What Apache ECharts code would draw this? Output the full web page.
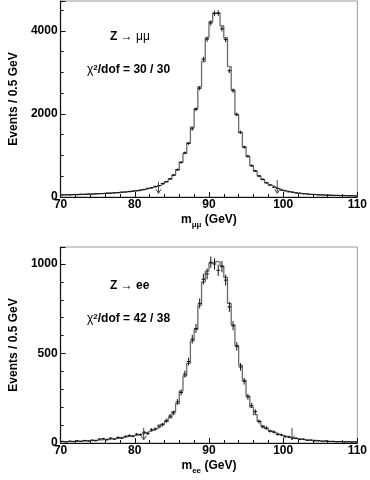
<!DOCTYPE html>
<html>
<head>
<meta charset="utf-8">
<script src="https://cdn.jsdelivr.net/npm/echarts@6/dist/echarts.min.js"></script>
<style>
  html, body { margin: 0; padding: 0; background: #fff; }
  #chart { width: 370px; height: 480px; }
</style>
</head>
<body>
<div id="chart"></div>
<script>
// 0.5 GeV bins from 70 to 110 GeV
const BIN_START = 70
const BIN_WIDTH = 0.5

// Z -> mumu : simulated shape (histogram) and data
const MU_MC = [
  50, 52, 54, 57, 60, 63, 66, 69, 72, 76,
  80, 85, 90, 95, 101, 108, 115, 123, 132, 142,
  150, 165, 185, 205, 225, 250, 280, 320, 370, 430,
  530, 650, 840, 1050, 1300, 1680, 2130, 2650, 3260, 3830,
  4220, 4425, 4425, 4120, 3830, 3140, 2580, 1980, 1550, 1210,
  970, 760, 620, 510, 420, 345, 285, 240, 200, 165,
  145, 128, 113, 100, 88, 79, 71, 65, 59, 54,
  50, 46, 43, 40, 37, 35, 33, 31, 29, 27,
]
const MU_DATA = [
  48, 55, 52, 60, 58, 65, 64, 71, 70, 78,
  82, 83, 93, 92, 104, 106, 118, 121, 135, 140,
  155, 168, 182, 208, 222, 255, 276, 326, 366, 438,
  525, 660, 832, 1062, 1290, 1640, 2110, 2620, 3320, 3800,
  4190, 4420, 4430, 4050, 3790, 3040, 2560, 1990, 1560, 1200,
  985, 750, 630, 505, 428, 340, 290, 236, 204, 166,
  148, 125, 116, 97, 90, 77, 73, 63, 61, 52,
  51, 45, 44, 39, 38, 34, 34, 30, 30, 26,
]
// fit range arrows: [mass, from, to]
const MU_ARROWS = [[83.2, 370, 90], [99.2, 410, 90]]

// Z -> ee
const EE_MC = [
  8, 8, 9, 9, 10, 11, 12, 13, 14, 16,
  17, 19, 21, 23, 25, 28, 31, 34, 38, 41,
  45, 50, 56, 63, 70, 80, 90, 105, 120, 140,
  175, 220, 290, 375, 445, 570, 635, 770, 900, 960,
  1005, 1015, 1010, 990, 925, 780, 660, 545, 435, 350,
  262, 200, 158, 122, 95, 80, 68, 58, 50, 43,
  37, 32, 28, 25, 22, 19, 17, 15, 14, 12,
  11, 10, 9, 8, 8, 7, 7, 6, 6, 5,
]
const EE_DATA = [
  9, 6, 10, 8, 12, 9, 14, 11, 16, 13,
  22, 24, 18, 27, 22, 31, 27, 37, 42, 38,
  49, 46, 60, 52, 74, 78, 95, 102, 125, 150,
  168, 230, 282, 385, 455, 580, 640, 780, 915, 945,
  1010, 1000, 965, 985, 910, 760, 655, 540, 425, 345,
  258, 210, 175, 120, 90, 84, 66, 61, 48, 45,
  35, 34, 27, 26, 20, 21, 15, 16, 12, 13,
  10, 11, 8, 9, 7, 8, 6, 7, 5, 6,
]
const EE_ARROWS = [[81.2, 85, 18], [101.2, 85, 18]]

const FONT = '"Liberation Sans", "DejaVu Sans", Arial, sans-serif'

function histLine(values) {
  const pts = values.map((v, i) => [BIN_START + i * BIN_WIDTH, v])
  pts.push([BIN_START + values.length * BIN_WIDTH, values[values.length - 1]])
  return pts
}

function points(values) {
  return values.map((v, i) => [BIN_START + (i + 0.5) * BIN_WIDTH, v])
}

function renderCross(params, api) {
  const x = api.value(0)
  const y = api.value(1)
  const err = Math.sqrt(y)
  const c = api.coord([x, y])
  const l = api.coord([x - BIN_WIDTH / 2, y])
  const r = api.coord([x + BIN_WIDTH / 2, y])
  const t = api.coord([x, y + err])
  const b = api.coord([x, y - err])
  const style = { stroke: '#111', lineWidth: 1 }
  return {
    type: 'group',
    children: [
      { type: 'line', shape: { x1: l[0], y1: c[1], x2: r[0], y2: c[1] }, style },
      { type: 'line', shape: { x1: c[0], y1: t[1], x2: c[0], y2: b[1] }, style },
    ],
  }
}

function renderArrow(params, api) {
  const top = api.coord([api.value(0), api.value(1)])
  const bot = api.coord([api.value(0), api.value(2)])
  const style = { stroke: '#444', lineWidth: 1, fill: null }
  return {
    type: 'group',
    children: [
      { type: 'line', shape: { x1: top[0], y1: top[1], x2: bot[0], y2: bot[1] }, style },
      { type: 'polyline', shape: { points: [[bot[0] - 2.5, bot[1] - 4], [bot[0], bot[1]], [bot[0] + 2.5, bot[1] - 4]] }, style },
    ],
  }
}

const tickLabel = {
  color: '#000',
  fontFamily: FONT,
  fontWeight: 'bold',
  fontSize: 12,
  formatter: (value) => String(value),
}

function makeX(gridIndex, sub) {
  return {
    gridIndex,
    type: 'value',
    min: 70,
    max: 110,
    interval: 10,
    name: `{m|m}{s|${sub}}{m| (GeV)}`,
    nameLocation: 'middle',
    nameGap: 14,
    nameTextStyle: {
      rich: {
        m: { fontFamily: FONT, fontWeight: 'bold', fontSize: 12, color: '#000', lineHeight: 18, verticalAlign: 'middle' },
        s: { fontFamily: FONT, fontWeight: 'bold', fontSize: 8, color: '#000', lineHeight: 12, verticalAlign: 'bottom' },
      },
    },
    axisLine: { onZero: false, lineStyle: { color: '#111', width: 1.2 } },
    axisTick: { inside: true, length: 5, lineStyle: { color: '#111' } },
    minorTick: { show: true, splitNumber: 5, length: 3, lineStyle: { color: '#111' } },
    splitLine: { show: false },
    axisLabel: { ...tickLabel, margin: 2 },
  }
}

function makeY(gridIndex, max, interval, minorSplit) {
  return {
    gridIndex,
    type: 'value',
    min: 0,
    max,
    interval,
    name: 'Events / 0.5 GeV',
    nameLocation: 'middle',
    nameGap: 38,
    nameTextStyle: { fontFamily: FONT, fontWeight: 'bold', fontSize: 12, color: '#000' },
    axisLine: { show: true, lineStyle: { color: '#111', width: 1.2 } },
    axisTick: { inside: true, length: 5, lineStyle: { color: '#111' } },
    minorTick: { show: true, splitNumber: minorSplit, length: 3, lineStyle: { color: '#111' } },
    splitLine: { show: false },
    axisLabel: { ...tickLabel, margin: 3, showMaxLabel: false },
  }
}

const labelRich = {
  b: { fontFamily: FONT, fontWeight: 'bold', fontSize: 12, fill: '#000' },
  r: { fontFamily: FONT, fontSize: 12, fill: '#000' },
  sup: { fontFamily: FONT, fontWeight: 'bold', fontSize: 8, fill: '#000', verticalAlign: 'top' },
}

function panelText(x, y, text) {
  return {
    type: 'text',
    left: x,
    top: y,
    style: { text, rich: labelRich, fill: '#000', font: `bold 12px ${FONT}` },
  }
}

const chart = echarts.init(document.getElementById('chart'))
chart.setOption({
  animation: false,
  backgroundColor: '#fff',
  grid: [
    { left: 51, top: 1, right: 10, height: 196, show: true, borderColor: '#999', borderWidth: 1 },
    { left: 51, top: 247, right: 10, height: 196, show: true, borderColor: '#999', borderWidth: 1 },
  ],
  xAxis: [makeX(0, 'μμ'), makeX(1, 'ee')],
  yAxis: [makeY(0, 4720, 2000, 4), makeY(1, 1095, 500, 5)],
  graphic: [
    panelText(110, 31, '{b|Z }{r|→ μμ}'),
    panelText(87, 64, '{r|χ}{sup|2}{b|/dof = 30 / 30}'),
    panelText(110, 280, '{b|Z }{r|→ }{b|ee}'),
    panelText(87, 313, '{r|χ}{sup|2}{b|/dof = 42 / 38}'),
  ],
  series: [
    {
      type: 'line', xAxisIndex: 0, yAxisIndex: 0, step: 'end', showSymbol: false,
      data: histLine(MU_MC), lineStyle: { color: '#6a6a6a', width: 1.3 }, z: 2,
    },
    { type: 'custom', xAxisIndex: 0, yAxisIndex: 0, data: points(MU_DATA), renderItem: renderCross, clip: true, z: 3 },
    { type: 'custom', xAxisIndex: 0, yAxisIndex: 0, data: MU_ARROWS, renderItem: renderArrow, z: 4 },
    {
      type: 'line', xAxisIndex: 1, yAxisIndex: 1, step: 'end', showSymbol: false,
      data: histLine(EE_MC), lineStyle: { color: '#6a6a6a', width: 1.3 }, z: 2,
    },
    { type: 'custom', xAxisIndex: 1, yAxisIndex: 1, data: points(EE_DATA), renderItem: renderCross, clip: true, z: 3 },
    { type: 'custom', xAxisIndex: 1, yAxisIndex: 1, data: EE_ARROWS, renderItem: renderArrow, z: 4 },
  ],
})
</script>
</body>
</html>
